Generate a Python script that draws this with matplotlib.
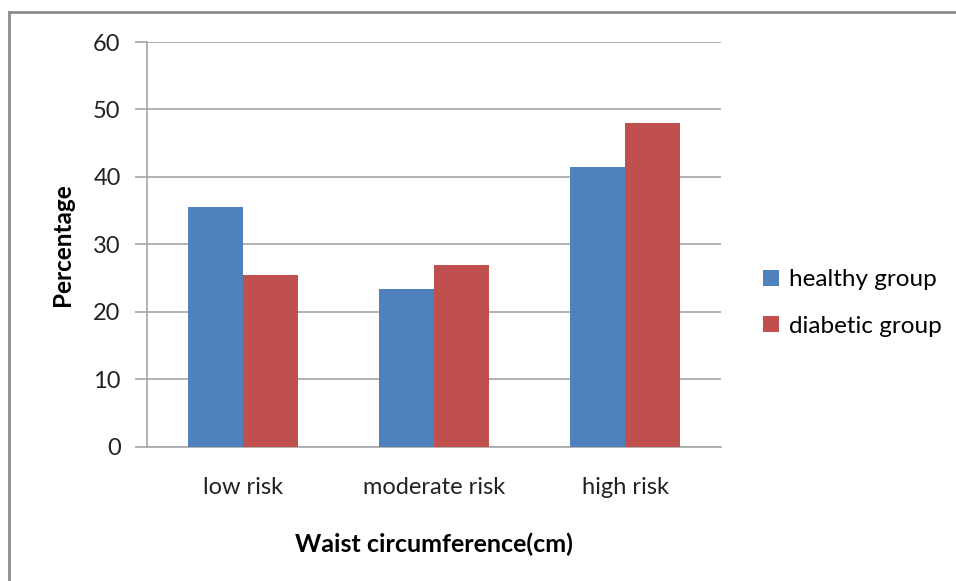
import numpy as np
import matplotlib.pyplot as plt
from matplotlib.lines import Line2D

categories = ['low risk', 'moderate risk', 'high risk']
healthy = [35.5, 23.4, 41.5]
diabetic = [25.4, 26.9, 48.0]
series_names = ['healthy group', 'diabetic group']
yticks = [0, 10, 20, 30, 40, 50, 60]

plt.rcParams['font.family'] = ['Lato', 'DejaVu Sans']

fig = plt.figure(figsize=(9.56, 5.81), dpi=100)
ax = fig.add_axes([0.1538, 0.2311, 0.6004, 0.6966])

x = np.arange(len(categories))
w = 0.2875
ax.bar(x - w / 2, healthy, w, color='#4F81BD', label=series_names[0], zorder=3)
ax.bar(x + w / 2, diabetic, w, color='#C0504D', label=series_names[1], zorder=3)

ax.set_xlim(-0.5, 2.5)
ax.set_ylim(0, 60)
ax.set_yticks(yticks)
ax.set_xticks(x)
ax.set_xticklabels(categories)
ax.grid(axis='y', color='#a6a6a6', linewidth=1.2, zorder=0)
ax.tick_params(axis='y', length=9, width=1.2, color='#a6a6a6', pad=10,
               labelsize=17, labelcolor='#222222')
ax.tick_params(axis='x', length=0, pad=22, labelsize=17, labelcolor='#222222')

for s in ['top', 'right']:
    ax.spines[s].set_visible(False)
ax.spines['left'].set_color('#a6a6a6')
ax.spines['left'].set_linewidth(1.2)
ax.spines['bottom'].set_color('#a6a6a6')
ax.spines['bottom'].set_linewidth(1.2)

ax.set_ylabel('Percentage', fontsize=17.5, fontweight='bold', labelpad=14)
ax.set_xlabel('Waist circumference(cm)', fontsize=18, fontweight='bold', labelpad=25)

leg = ax.legend(loc='center left', bbox_to_anchor=(1.035, 0.355), frameon=False,
                fontsize=17.5, handlelength=0.65, handleheight=0.65,
                handletextpad=0.4, labelspacing=1.05)

# outer frame lines
fig.add_artist(Line2D([8.5 / 956, 8.5 / 956], [0, 1 - 11.5 / 581],
                      color='#8c8c8c', linewidth=2, transform=fig.transFigure))
fig.add_artist(Line2D([8.5 / 956, 1], [1 - 11.5 / 581, 1 - 11.5 / 581],
                      color='#8c8c8c', linewidth=2, transform=fig.transFigure))

fig.savefig('out.png', dpi=100)
